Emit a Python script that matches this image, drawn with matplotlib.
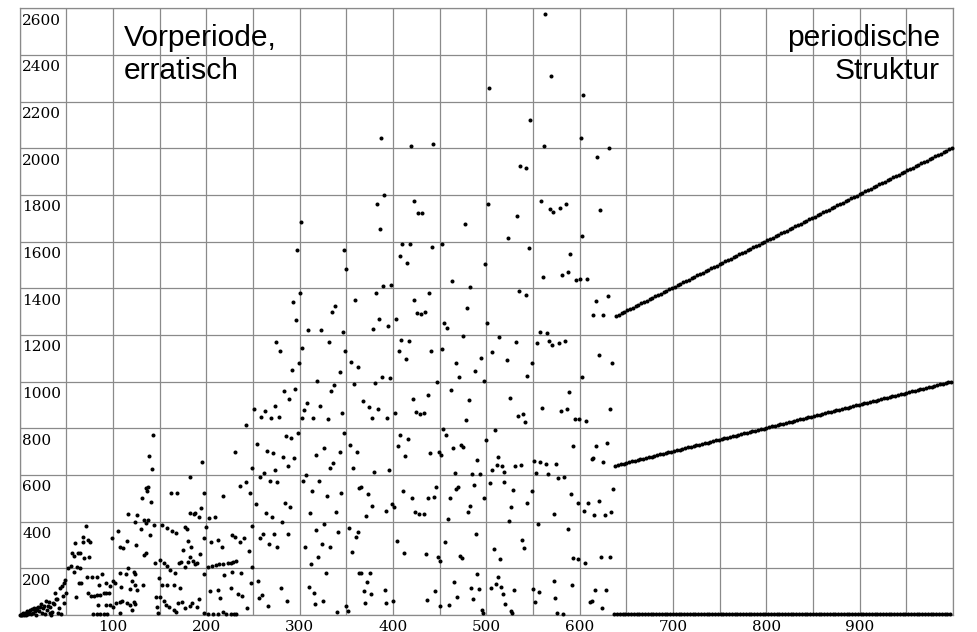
import numpy as np
import matplotlib
matplotlib.use("Agg")
import matplotlib.pyplot as plt
from matplotlib.transforms import offset_copy

# ---------------------------------------------------------------
# Vorperiode (erratischer Anfang), n = 0 ... 636
# ---------------------------------------------------------------
n_start = [0, 1, 2, 3, 4, 5, 6, 7, 8, 9, 10, 11, 12, 13, 14, 15, 16, 17, 18, 19,
           20, 21, 22, 23, 24, 25, 26, 27, 28, 29, 30, 31, 32, 33, 34, 35, 36, 37,
           38, 39, 40, 41, 42, 43, 44, 45, 46, 47, 48, 49, 50]
a_start = [0, 0, 5, 0, 10, 2, 8, 0, 15, 5, 12, 20, 3, 25, 10, 29, 18, 0, 22, 30,
           36, 15, 35, 46, 8, 28, 40, 5, 60, 20, 40, 57, 10, 35, 0, 12, 50, 45,
           93, 67, 70, 10, 30, 114, 5, 124, 80, 136, 53, 150, 93]

n_050 = [52, 55, 58, 61, 65, 56, 58, 62, 65, 59,
         68, 71, 73, 75, 68, 69, 74, 64, 60, 66,
         72, 77, 83, 88, 73, 76, 80, 83, 86, 90,
         93, 96, 85, 93, 97, 100, 102, 93, 84, 97,
         100, 103, 107, 79, 83, 86, 90, 94, 107, 109,
         114, 116, 120, 123, 124, 124, 118, 132, 126, 110,
         115, 118, 120, 122, 124, 108, 116, 126, 133, 137,
         144, 130, 135, 124, 105, 99, 108, 111, 115, 125,
         135, 133, 140, 136, 135, 137, 131, 141, 139, 142,
         143, 145, 146, 147, 148, 149]
a_050 = [200, 210, 186, 207, 200, 264, 253, 267, 267, 307,
         314, 381, 321, 314, 336, 243, 247, 136, 79, 136,
         164, 164, 161, 176, 96, 81, 81, 86, 86, 93,
         93, 96, 129, 136, 124, 147, 139, 43, 43, 43,
         36, 53, 57, 4, 4, 4, 4, 4, 181, 121,
         176, 200, 147, 186, 176, 129, 111, 129, 107, 60,
         50, 43, 21, 57, 47, 10, 433, 429, 407, 407,
         386, 367, 393, 400, 360, 329, 293, 286, 317, 300,
         264, 259, 341, 530, 543, 550, 500, 486, 683, 626,
         771, 224, 79, 36, 10, 157]

n_150 = [150, 155, 158, 161, 166, 171, 173, 177, 180, 172,
         165, 153, 158, 150, 155, 157, 160, 165, 167, 170,
         174, 177, 182, 185, 190, 192, 152, 158, 163, 168,
         175, 180, 184, 183, 186, 190, 193, 188, 187, 177,
         179, 182, 188, 192, 194, 203, 209, 200, 197, 205,
         213, 217, 228, 231, 236, 240, 246, 249, 183, 162,
         169, 197, 218, 247, 195, 231, 243, 236, 242, 249,
         198, 204, 212, 215, 219, 226, 228, 234, 238, 244,
         248, 249, 237, 202, 206, 210, 214, 218, 223, 226,
         229, 232, 198, 202, 207, 212, 218, 221, 226, 230,
         232]
a_150 = [236, 221, 211, 193, 181, 221, 229, 207, 229, 114,
         129, 129, 129, 79, 60, 43, 36, 21, 14, 53,
         57, 29, 39, 53, 36, 69, 386, 371, 360, 350,
         279, 319, 293, 250, 233, 224, 260, 219, 431, 379,
         370, 436, 436, 419, 457, 414, 419, 379, 329, 311,
         321, 291, 343, 333, 311, 329, 276, 381, 590, 521,
         521, 524, 510, 524, 654, 697, 814, 553, 569, 631,
         177, 104, 107, 73, 171, 114, 186, 90, 81, 29,
         136, 206, 181, 207, 211, 214, 217, 219, 221, 224,
         227, 230, 10, 4, 4, 4, 14, 4, 4, 4,
         4]

n_250 = [253, 254, 265, 271, 262, 258, 268, 276, 274, 255,
         256, 260, 266, 264, 270, 258, 261, 267, 273, 276,
         275, 274, 251, 263, 259, 269, 278]
a_250 = [476, 731, 703, 694, 607, 590, 576, 571, 621, 146,
         74, 86, 39, 439, 421, 331, 347, 304, 347, 293,
         1171, 896, 884, 874, 850, 844, 850]

# n >= 280, nach Wertebereichen gruppiert
n_1200 = [335, 296, 309, 323, 346, 379, 385, 395, 403, 426,
          430, 434, 455, 458, 475, 501, 558, 565, 614, 625]
a_1200 = [1297, 1264, 1221, 1221, 1214, 1226, 1269, 1240, 1269, 1296,
          1290, 1300, 1253, 1231, 1197, 1253, 1214, 1210, 1284, 1284]

n_1000 = [279, 303, 331, 349, 292, 299, 343, 319, 355, 362,
          409, 417, 406, 414, 441, 452, 467, 471, 447, 488,
          494, 498, 506, 514, 522, 532, 544, 549, 554, 567,
          570, 578, 584, 621, 635, 602]
a_1000 = [1131, 1146, 1171, 1131, 1050, 1081, 1043, 1004, 1083, 1061,
          1179, 1174, 1131, 1096, 1133, 1139, 1079, 1021, 997, 1046,
          1100, 1003, 1129, 1190, 1093, 1171, 1026, 1081, 1164, 1176,
          1157, 1167, 1174, 1114, 1079, 1021]

n_800 = [283, 289, 295, 302, 305, 308, 314, 322, 330, 334,
         337, 345, 358, 368, 374, 378, 381, 384, 388, 394,
         397, 402, 421, 425, 429, 433, 438, 462, 478, 481,
         525, 534, 539, 541, 560, 580, 586, 589, 595, 599,
         607, 633]
a_800 = [961, 926, 967, 843, 879, 910, 846, 896, 840, 961,
         987, 867, 989, 919, 890, 846, 996, 881, 1021, 843,
         1017, 864, 924, 869, 861, 864, 943, 964, 836, 921,
         931, 853, 860, 829, 889, 876, 881, 957, 839, 841,
         831, 884]

n_600 = [285, 291, 298, 282, 288, 294, 317, 326, 333, 336,
         343, 348, 354, 357, 361, 380, 396, 405, 408, 413,
         416, 440, 449, 451, 454, 457, 464, 473, 475, 466,
         485, 490, 493, 500, 509, 513, 506, 511, 517, 519,
         531, 537, 551, 553, 558, 564, 566, 575, 577, 583,
         593, 613, 614, 618, 625, 629]
a_600 = [767, 757, 781, 679, 639, 671, 686, 717, 629, 650,
         700, 781, 729, 631, 700, 614, 620, 724, 770, 681,
         756, 693, 700, 686, 797, 771, 716, 730, 721, 610,
         603, 664, 604, 750, 793, 676, 620, 643, 639, 611,
         640, 643, 660, 610, 656, 646, 604, 647, 589, 590,
         724, 667, 674, 724, 657, 739]

n_400 = [304, 307, 313, 321, 284, 290, 311, 329, 339, 344,
         364, 366, 373, 377, 371, 393, 399, 401, 411, 420,
         424, 428, 433, 437, 444, 446, 459, 461, 468, 470,
         480, 483, 487, 497, 504, 519, 524, 526, 529, 544,
         549, 572, 591, 598, 605, 609, 615, 621, 627, 634,
         636]
a_400 = [574, 601, 531, 574, 481, 464, 436, 510, 443, 521,
         543, 550, 517, 467, 424, 447, 476, 464, 531, 503,
         443, 433, 433, 503, 504, 550, 410, 503, 539, 550,
         440, 467, 557, 503, 567, 569, 404, 464, 536, 479,
         531, 433, 517, 479, 447, 481, 429, 490, 429, 443,
         539]

n_200 = [281, 287, 306, 312, 317, 320, 324, 326, 332, 341,
         353, 356, 360, 363, 404, 412, 435, 448, 450, 456,
         472, 474, 489, 508, 515, 538, 540, 555, 588, 593,
         598, 606, 623, 632]
a_200 = [397, 347, 293, 217, 364, 250, 304, 389, 293, 356,
         373, 271, 336, 354, 319, 264, 260, 250, 233, 314,
         254, 243, 347, 281, 239, 321, 287, 389, 367, 243,
         240, 221, 247, 250]

n_0 = [280, 286, 310, 315, 316, 325, 328, 340, 350, 352,
       364, 366, 375, 369, 376, 372, 370, 391, 392, 400,
       436, 445, 450, 460, 465, 469, 484, 486, 490, 492,
       495, 496, 505, 510, 513, 516, 518, 520, 526, 528,
       530, 550, 552, 556, 573, 574, 576, 582, 592, 611,
       613, 616, 624, 628]
a_0 = [114, 60, 121, 93, 47, 61, 179, 13, 39, 19,
       179, 181, 179, 103, 89, 143, 51, 106, 53, 60,
       66, 101, 39, 41, 143, 79, 117, 67, 174, 110,
       21, 7, 114, 133, 161, 121, 90, 47, 19, 7,
       107, 110, 54, 97, 146, 74, 10, 4, 130, 54,
       61, 107, 31, 107]

n_hoch = [563, 569, 503, 604, 547, 387, 419, 443, 562, 601,
          619, 631, 536, 543, 390, 383, 423, 427, 431, 386,
          301, 477, 502, 533, 559, 568, 571, 579, 585, 622,
          603, 523, 297, 347, 350, 407, 410, 415, 418, 442,
          453, 546, 499, 463, 482, 561, 581, 587, 590, 596,
          600, 608, 535, 542, 300, 293, 382, 389, 398, 422,
          439, 338, 359, 479, 618, 630]
a_hoch = [2576, 2311, 2260, 2230, 2121, 2043, 2011, 2020, 2011, 2043,
          1964, 2000, 1926, 1916, 1801, 1763, 1773, 1724, 1724, 1654,
          1684, 1674, 1761, 1711, 1774, 1741, 1729, 1746, 1760, 1736,
          1626, 1616, 1563, 1563, 1483, 1539, 1590, 1510, 1591, 1576,
          1591, 1573, 1503, 1430, 1404, 1450, 1456, 1469, 1549, 1434,
          1440, 1440, 1390, 1373, 1381, 1343, 1379, 1411, 1416, 1349,
          1381, 1326, 1349, 1317, 1344, 1369]

# ---------------------------------------------------------------
# Periodische Struktur ab n = 637 (Periode 3: unten / Mitte / oben)
# ---------------------------------------------------------------
n_periode_start = 637
n_periode_ende = 999

werte_unten = [5, 5, 5, 5, 5, 5, 5, 5, 5, 5,
               5, 5, 5, 5, 5, 5, 5, 5, 5, 5,
               5, 5, 5, 5, 5, 5, 5, 5, 5, 5,
               5, 5, 5, 5, 5, 5, 5, 5, 5, 5,
               5, 5, 5, 5, 5, 5, 5, 5, 5, 5,
               5, 5, 5, 5, 5, 5, 5, 5, 5, 5,
               5, 5, 5, 5, 5, 5, 5, 5, 5, 5,
               5, 5, 5, 5, 5, 5, 5, 5, 5, 5,
               5, 5, 5, 5, 5, 5, 5, 5, 5, 5,
               5, 5, 5, 5, 5, 5, 5, 5, 5, 5,
               5, 5, 5, 5, 5, 5, 5, 5, 5, 5,
               5, 5, 5, 5, 5, 5, 5, 5, 5, 5,
               5]

werte_mitte = [640, 643, 646, 649, 652, 655, 658, 661, 664, 667,
               670, 673, 676, 679, 682, 685, 688, 691, 694, 697,
               700, 703, 706, 709, 712, 715, 718, 721, 724, 727,
               730, 733, 736, 739, 742, 745, 748, 751, 754, 757,
               760, 763, 766, 769, 772, 775, 778, 781, 784, 787,
               790, 793, 796, 799, 802, 805, 808, 811, 814, 817,
               820, 823, 826, 829, 832, 835, 838, 841, 844, 847,
               850, 853, 856, 859, 862, 865, 868, 871, 874, 877,
               880, 883, 886, 889, 892, 895, 898, 901, 904, 907,
               910, 913, 916, 919, 922, 925, 928, 931, 934, 937,
               940, 943, 946, 949, 952, 955, 958, 961, 964, 967,
               970, 973, 976, 979, 982, 985, 988, 991, 994, 997,
               1000]

werte_oben = [1281, 1287, 1293, 1299, 1305, 1311, 1317, 1323, 1329, 1335,
              1341, 1347, 1353, 1359, 1365, 1371, 1377, 1383, 1389, 1395,
              1401, 1407, 1413, 1419, 1425, 1431, 1437, 1443, 1449, 1455,
              1461, 1467, 1473, 1479, 1485, 1491, 1497, 1503, 1509, 1515,
              1521, 1527, 1533, 1539, 1545, 1551, 1557, 1563, 1569, 1575,
              1581, 1587, 1593, 1599, 1605, 1611, 1617, 1623, 1629, 1635,
              1641, 1647, 1653, 1659, 1665, 1671, 1677, 1683, 1689, 1695,
              1701, 1707, 1713, 1719, 1725, 1731, 1737, 1743, 1749, 1755,
              1761, 1767, 1773, 1779, 1785, 1791, 1797, 1803, 1809, 1815,
              1821, 1827, 1833, 1839, 1845, 1851, 1857, 1863, 1869, 1875,
              1881, 1887, 1893, 1899, 1905, 1911, 1917, 1923, 1929, 1935,
              1941, 1947, 1953, 1959, 1965, 1971, 1977, 1983, 1989, 1995,
              2001]

# Achsenbeschriftung
x_ticks = [100, 200, 300, 400, 500, 600, 700, 800, 900]
y_ticks = [200, 400, 600, 800, 1000, 1200, 1400, 1600, 1800, 2000, 2200, 2400, 2600]
text_links = "Vorperiode,\nerratisch"
text_rechts = "periodische\nStruktur"

# ---------------------------------------------------------------
n_vor = []
a_vor = []
for nn, aa in [(n_start, a_start), (n_050, a_050), (n_150, a_150), (n_250, a_250),
               (n_1200, a_1200), (n_1000, a_1000), (n_800, a_800), (n_600, a_600),
               (n_400, a_400), (n_200, a_200), (n_0, a_0), (n_hoch, a_hoch)]:
    assert len(nn) == len(aa), (len(nn), len(aa))
    n_vor += nn
    a_vor += aa

n_per = np.arange(n_periode_start, n_periode_ende + 1)
a_per = np.column_stack([werte_unten, werte_mitte, werte_oben]).ravel()

n_all = np.concatenate([np.array(n_vor), n_per])
a_all = np.concatenate([np.array(a_vor), a_per])

W, H = 978, 632
fig = plt.figure(figsize=(W / 100, H / 100), dpi=100)
ax = fig.add_axes([19.7 / W, 17 / H, 933.3 / W, 606.7 / H])

ax.set_xlim(0, 1000)
ax.set_ylim(0, 2600)

gridcol = "#8a8a8a"
ax.set_xticks(x_ticks, [str(v) for v in x_ticks])
ax.set_xticks(np.arange(0, 1001, 50), minor=True)
ax.set_yticks([0] + y_ticks, [])
ax.grid(True, which="both", color=gridcol, lw=0.9)
ax.set_axisbelow(True)
ax.tick_params(which="both", length=0)
ax.tick_params(axis="x", pad=3.3, labelsize=11)
for lab in ax.get_xticklabels():
    lab.set_fontfamily("DejaVu Serif")
for sp in ax.spines.values():
    sp.set_color(gridcol)
    sp.set_linewidth(0.9)

ytr = offset_copy(ax.get_yaxis_transform(), fig=fig, x=2.5, y=-5.5, units="dots")
for v in y_ticks:
    ax.text(0, v, str(v), transform=ytr, ha="left", va="top",
            fontsize=11, family="DejaVu Serif", color="black")

ax.plot(n_all, a_all, "o", ms=2.9, mew=0, color="black", clip_on=False, zorder=3)

ax.text((124 - 19.7) / 933.3, 1 - (24.5 - 8.3) / 606.7, text_links,
        transform=ax.transAxes, ha="left", va="top", fontsize=21.6,
        family="Liberation Sans", linespacing=1.2)
ax.text((940 - 19.7) / 933.3, 1 - (24.5 - 8.3) / 606.7, text_rechts,
        transform=ax.transAxes, ha="right", va="top", fontsize=21.6,
        family="Liberation Sans", linespacing=1.2, multialignment="right")

fig.savefig("out.png", dpi=100)
